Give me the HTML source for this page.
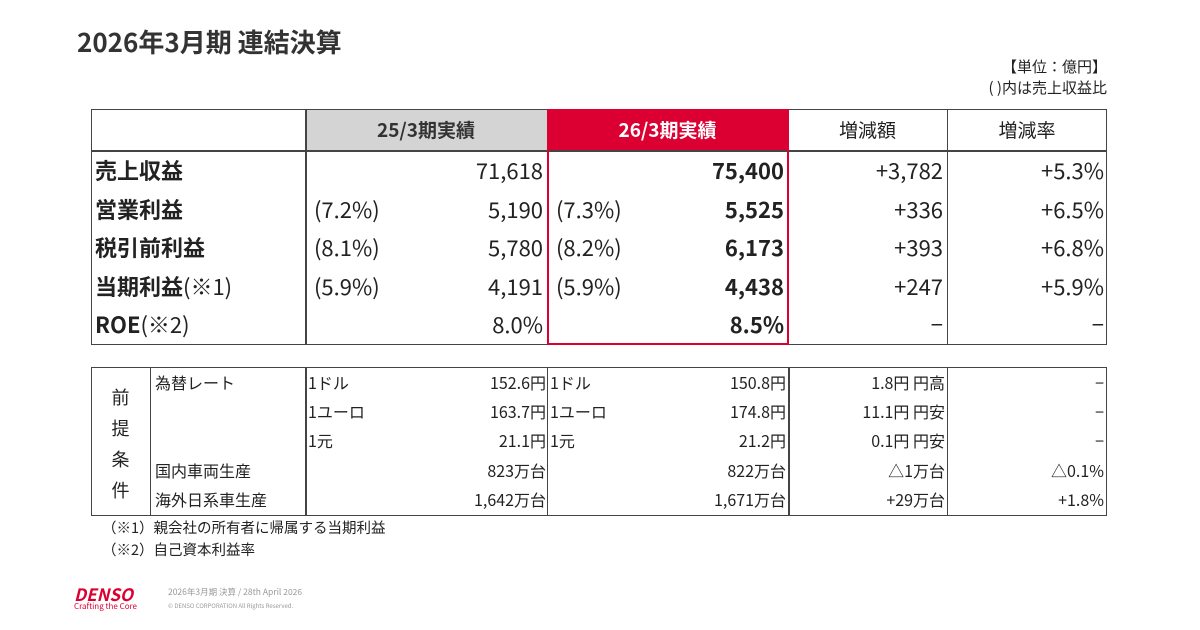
<!DOCTYPE html>
<html><head><meta charset="utf-8">
<style>
*{margin:0;padding:0;box-sizing:border-box}
body{width:1200px;height:630px;background:#fff;position:relative;overflow:hidden;font-family:"Noto Sans CJK JP","Liberation Sans",sans-serif;color:#222}
.a{position:absolute;white-space:nowrap}
.r{text-align:right}
.c{text-align:center}
.ln{position:absolute;background:#444}
.t{font-size:22px;line-height:38px}
.b{font-weight:bold}
.s{font-size:16px;line-height:29px}
</style></head><body>
<div class="a b" style="left:77px;top:22px;font-size:26px;line-height:40px;color:#333">2026年3月期 連結決算</div>
<div class="a r" style="right:93px;top:56px;font-size:15px;line-height:21px">【単位：億円】<br>( )内は売上収益比</div>

<div class="a" style="left:305px;top:109px;width:242px;height:41px;background:#d4d4d4"></div>
<div class="a" style="left:547px;top:109px;width:241px;height:41px;background:#dc0032"></div>
<div class="a" style="left:91px;top:109px;width:1016px;height:236px;border:1.5px solid #444"></div>
<div class="ln" style="left:91px;top:150px;width:1016px;height:1.5px"></div>
<div class="ln" style="left:305px;top:109px;width:2px;height:236px"></div>
<div class="ln" style="left:788px;top:109px;width:1px;height:236px"></div>
<div class="ln" style="left:947px;top:109px;width:1px;height:236px"></div>
<div class="a" style="left:547px;top:109px;width:242px;height:236px;border:2px solid #dc0032"></div>

<div class="a c b" style="left:305px;top:109px;width:242px;font-size:19px;line-height:41px;color:#333">25/3期実績</div>
<div class="a c b" style="left:547px;top:109px;width:241px;font-size:19px;line-height:41px;color:#fff">26/3期実績</div>
<div class="a c" style="left:788px;top:109px;width:159px;font-size:19px;line-height:41px">増減額</div>
<div class="a c" style="left:947px;top:109px;width:160px;font-size:19px;line-height:41px">増減率</div>

<div class="a t b" style="left:95px;top:151px">売上収益</div>
<div class="a t b" style="left:95px;top:190px">営業利益</div>
<div class="a t b" style="left:95px;top:228px">税引前利益</div>
<div class="a t b" style="left:95px;top:267px">当期利益<span style="font-weight:normal">(※1)</span></div>
<div class="a t b" style="left:95px;top:305px">ROE<span style="font-weight:normal">(※2)</span></div>

<div class="a t" style="left:314px;top:190px">(7.2%)</div>
<div class="a t" style="left:314px;top:228px">(8.1%)</div>
<div class="a t" style="left:314px;top:267px">(5.9%)</div>
<div class="a t r" style="right:657px;top:151px">71,618</div>
<div class="a t r" style="right:657px;top:190px">5,190</div>
<div class="a t r" style="right:657px;top:228px">5,780</div>
<div class="a t r" style="right:657px;top:267px">4,191</div>
<div class="a t r" style="right:657px;top:305px">8.0%</div>

<div class="a t" style="left:556px;top:190px">(7.3%)</div>
<div class="a t" style="left:556px;top:228px">(8.2%)</div>
<div class="a t" style="left:556px;top:267px">(5.9%)</div>
<div class="a t r b" style="right:416px;top:151px">75,400</div>
<div class="a t r b" style="right:416px;top:190px">5,525</div>
<div class="a t r b" style="right:416px;top:228px">6,173</div>
<div class="a t r b" style="right:416px;top:267px">4,438</div>
<div class="a t r b" style="right:416px;top:305px">8.5%</div>

<div class="a t r" style="right:257px;top:151px">+3,782</div>
<div class="a t r" style="right:257px;top:190px">+336</div>
<div class="a t r" style="right:257px;top:228px">+393</div>
<div class="a t r" style="right:257px;top:267px">+247</div>
<div class="a t r" style="right:257px;top:305px">−</div>
<div class="a t r" style="right:96px;top:151px">+5.3%</div>
<div class="a t r" style="right:96px;top:190px">+6.5%</div>
<div class="a t r" style="right:96px;top:228px">+6.8%</div>
<div class="a t r" style="right:96px;top:267px">+5.9%</div>
<div class="a t r" style="right:96px;top:305px">−</div>

<div class="a" style="left:91px;top:367px;width:1016px;height:149px;border:1.5px solid #444"></div>
<div class="ln" style="left:150px;top:367px;width:1px;height:149px"></div>
<div class="ln" style="left:305px;top:367px;width:1.5px;height:149px"></div>
<div class="ln" style="left:547px;top:367px;width:1px;height:149px"></div>
<div class="ln" style="left:788px;top:367px;width:1.5px;height:149px"></div>
<div class="ln" style="left:947px;top:367px;width:1px;height:149px"></div>
<div class="a c" style="left:91px;top:382px;width:59px;font-size:18px;line-height:31px;white-space:normal">前<br>提<br>条<br>件</div>
<div class="a s" style="left:155px;top:368px">為替レート</div>
<div class="a s" style="left:155px;top:456px">国内車両生産</div>
<div class="a s" style="left:155px;top:485px">海外日系車生産</div>

<div class="a s" style="left:308px;top:368px">1ドル</div>
<div class="a s" style="left:308px;top:397px">1ユーロ</div>
<div class="a s" style="left:308px;top:426px">1元</div>
<div class="a s r" style="right:654px;top:368px">152.6円</div>
<div class="a s r" style="right:654px;top:397px">163.7円</div>
<div class="a s r" style="right:654px;top:426px">21.1円</div>
<div class="a s r" style="right:654px;top:456px">823万台</div>
<div class="a s r" style="right:654px;top:485px">1,642万台</div>

<div class="a s" style="left:550px;top:368px">1ドル</div>
<div class="a s" style="left:550px;top:397px">1ユーロ</div>
<div class="a s" style="left:550px;top:426px">1元</div>
<div class="a s r" style="right:414px;top:368px">150.8円</div>
<div class="a s r" style="right:414px;top:397px">174.8円</div>
<div class="a s r" style="right:414px;top:426px">21.2円</div>
<div class="a s r" style="right:414px;top:456px">822万台</div>
<div class="a s r" style="right:414px;top:485px">1,671万台</div>

<div class="a s r" style="right:255px;top:368px">1.8円 円高</div>
<div class="a s r" style="right:255px;top:397px">11.1円 円安</div>
<div class="a s r" style="right:255px;top:426px">0.1円 円安</div>
<div class="a s r" style="right:255px;top:456px">△1万台</div>
<div class="a s r" style="right:255px;top:485px">+29万台</div>

<div class="a s r" style="right:96px;top:368px">−</div>
<div class="a s r" style="right:96px;top:397px">−</div>
<div class="a s r" style="right:96px;top:426px">−</div>
<div class="a s r" style="right:96px;top:456px">△0.1%</div>
<div class="a s r" style="right:96px;top:485px">+1.8%</div>

<div class="a" style="left:102px;top:517px;font-size:14.5px;line-height:22px">（※1）親会社の所有者に帰属する当期利益<br>（※2）自己資本利益率</div>

<div class="a b" style="left:74px;top:584px;font-size:17px;font-style:italic;color:#dc0032;line-height:20px">DENSO</div>
<div class="a" style="left:74px;top:602px;font-size:8px;line-height:10px;color:#dc0032">Crafting the Core</div>
<div class="a" style="left:168px;top:586px;font-size:8.5px;line-height:12px;color:#999">2026年3月期 決算 / 28th April 2026</div>
<div class="a" style="left:168px;top:602px;font-size:6px;line-height:8px;color:#999">© DENSO CORPORATION All Rights Reserved.</div>
</body></html>
